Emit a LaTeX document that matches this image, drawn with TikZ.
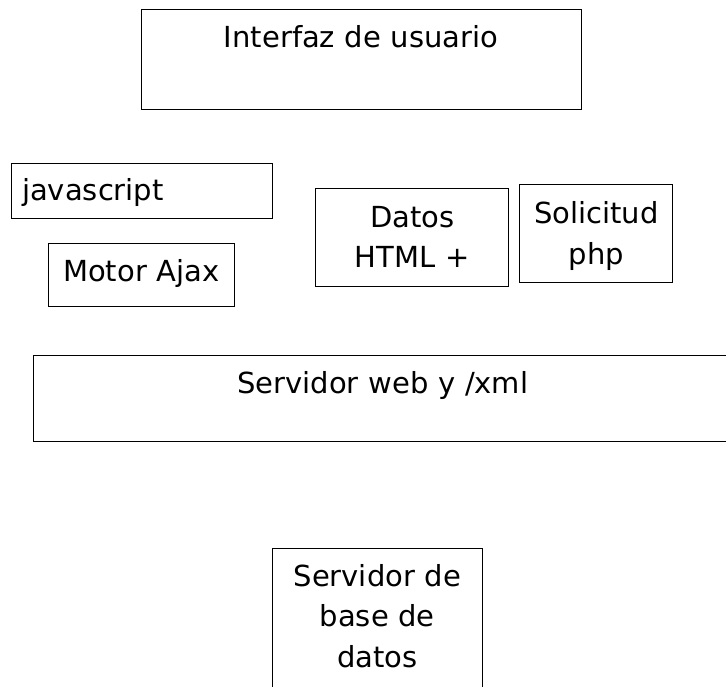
\documentclass[tikz,border=0pt]{standalone}
\usepackage{fontspec}
\setmainfont{DejaVu Sans}

\begin{document}
\begin{tikzpicture}[x=1pt,y=-1pt,
  caja/.style={draw, line width=0.9pt, inner sep=0pt, anchor=north west,
    align=center, font=\fontsize{29}{40.5}\selectfont}]

\useasboundingbox (0,0) rectangle (726,687);

%% Interfaz
\node[caja, text width=439.8pt, text height=38pt, text depth=62.5pt] (interfaz) at (140.7,8.7) {Interfaz de usuario};

%% Cliente
\node[caja, align=left, inner xsep=11pt, text width=239pt, text height=37.5pt, text depth=17.8pt] (javascript) at (10.7,163) {javascript};
\node[caja, text width=186.3pt, text height=37.7pt, text depth=25pt] (motor) at (47.7,243) {Motor Ajax};

%% Datos y solicitud
\node[caja, text width=193pt, text height=38.4pt, text depth=59pt] (datos) at (315.3,188.3) {Datos\\HTML +};
\node[caja, text width=153pt, text height=39pt, text depth=58.7pt] (solicitud) at (519.3,184.3) {Solicitud\\php};

%% Servidores
\node[caja, text width=699.6pt, text height=39pt, text depth=47.5pt] (servidorweb) at (32.6,354.5) {Servidor web y /xml};
\node[caja, text width=210.3pt, text height=37.7pt, text depth=120pt] (servidorbd) at (271.7,548.3) {Servidor de\\base de\\datos};

\end{tikzpicture}
\end{document}
